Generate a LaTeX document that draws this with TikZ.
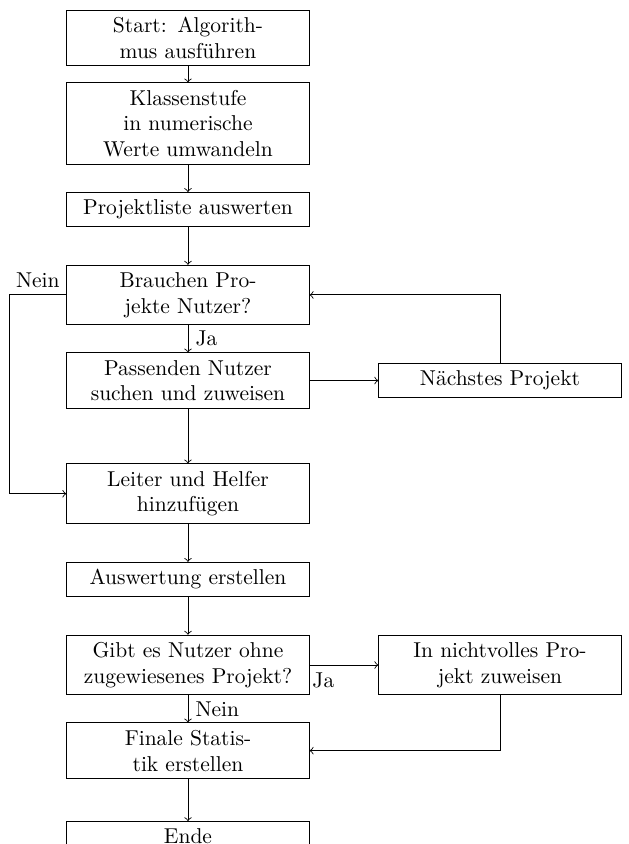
\documentclass[tikz,border=0pt]{standalone}
\usepackage{amsmath}
\usepackage{tikz}
\usetikzlibrary{positioning}

\begin{document}
\begin{tikzpicture}[node distance=1.4cm, on grid,
    block/.style={draw, rectangle, text width=3.73cm, align=center}]
    \useasboundingbox (-3.073,0.621) rectangle (7.209,-13.176);
    \node[block] (start) at (0,0) {Start: Algorith-\\mus ausführen};
    \node[block, below=of start] (klasse) {Klassenstufe\\in numerische\\Werte umwandeln};
    \node[block, below=of klasse] (liste) {Projektliste auswerten};
    \node[block, below=of liste] (brauchen) {Brauchen Pro-\\jekte Nutzer?};
    \node[block, below=of brauchen] (suchen) {Passenden Nutzer\\suchen und zuweisen};
    \node[block, right=5.1cm of suchen] (naechstes) {Nächstes Projekt};
    \node[block, below=1.85cm of suchen] (leiter) {Leiter und Helfer\\hinzufügen};
    \node[block, below=of leiter] (auswertung) {Auswertung erstellen};
    \node[block, below=of auswertung] (gibt) {Gibt es Nutzer ohne\\zugewiesenes Projekt?};
    \node[block, right=5.1cm of gibt] (zuweisen) {In nichtvolles Pro-\\jekt zuweisen};
    \node[block, below=of gibt] (finale) {Finale Statis-\\tik erstellen};
    \node[block, below=of finale] (ende) {Ende};
    \draw[->] (start) -- (klasse);
    \draw[->] (klasse) -- (liste);
    \draw[->] (liste) -- (brauchen);
    \draw[->] (brauchen) -- node[right] {Ja} (suchen);
    \draw[->] (brauchen.west) -- node[above] {Nein} ++(-0.93,0) |- (leiter.west);
    \draw[->] (suchen) -- (naechstes);
    \draw[->] (naechstes) |- (brauchen);
    \draw[->] (suchen) -- (leiter);
    \draw[->] (leiter) -- (auswertung);
    \draw[->] (auswertung) -- (gibt);
    \draw[->] (gibt) -- node[below, pos=0.2] {Ja} (zuweisen);
    \draw[->] (gibt) -- node[right] {Nein} (finale);
    \draw[->] (zuweisen) |- (finale);
    \draw[->] (finale) -- (ende);
    % \draw[->] (ende) -- ++(0,-1);
\end{tikzpicture}
\end{document}
